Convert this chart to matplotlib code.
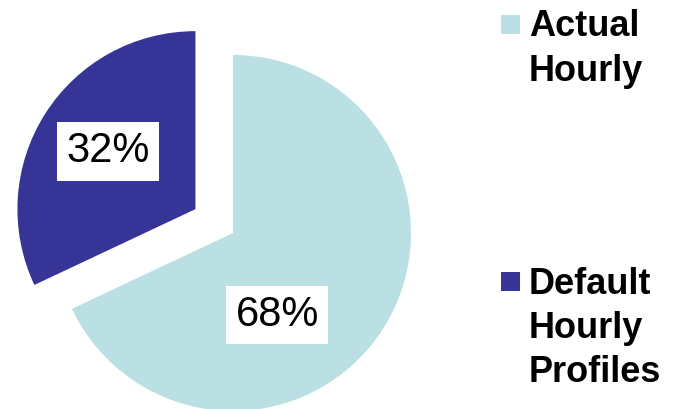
import numpy as np
import matplotlib
matplotlib.use("Agg")
import matplotlib.pyplot as plt
from matplotlib.patches import Rectangle

# Share of hourly profile types
categories = ["Actual\nHourly", "Default\nHourly\nProfiles"]
shares = [68, 32]
colors = ["#BAE0E3", "#363497"]
explode = [0.0, 0.25]

plt.rcParams["font.family"] = ["Liberation Sans", "DejaVu Sans"]

W, H = 673, 409
fig = plt.figure(figsize=(W / 100, H / 100), dpi=100)
ax = fig.add_axes([0, 0, 1, 1])
ax.set_xlim(0, W)
ax.set_ylim(0, H)
ax.set_aspect("equal")
ax.axis("off")

radius = 178
center = (233, H - 233)
wedges, _ = ax.pie(shares, colors=colors,
                   explode=[e * radius for e in explode], startangle=90,
                   counterclock=False, radius=radius, center=center,
                   wedgeprops=dict(linewidth=0))
ax.set_xlim(0, W)
ax.set_ylim(0, H)

# Percentage labels inside each wedge (angle shift, radial fraction)
label_place = [(-29.4, 0.524), (-1.0, 0.59)]
for w, val, (shift, frac) in zip(wedges, shares, label_place):
    mid = np.deg2rad((w.theta1 + w.theta2) / 2 + shift)
    cx, cy = w.center
    x = cx + frac * w.r * np.cos(mid)
    y = cy + frac * w.r * np.sin(mid)
    ax.text(x, y, f"{val}%", ha="center", va="center", fontsize=30,
            color="black",
            bbox=dict(boxstyle="square,pad=0.22", fc="white", ec="none"))

# Legend drawn as squares with bold multi-line labels
legend_tops = [15, 272]
for label, col, top in zip(categories, colors, legend_tops):
    ax.add_patch(Rectangle((501, H - top - 19), 19, 19, facecolor=col,
                           edgecolor="none"))
    ax.text(529, H - top + 5.5, label, ha="left", va="top",
            fontsize=26, fontweight="bold", linespacing=1.35,
            color="black")

fig.savefig("out.png", dpi=100)
